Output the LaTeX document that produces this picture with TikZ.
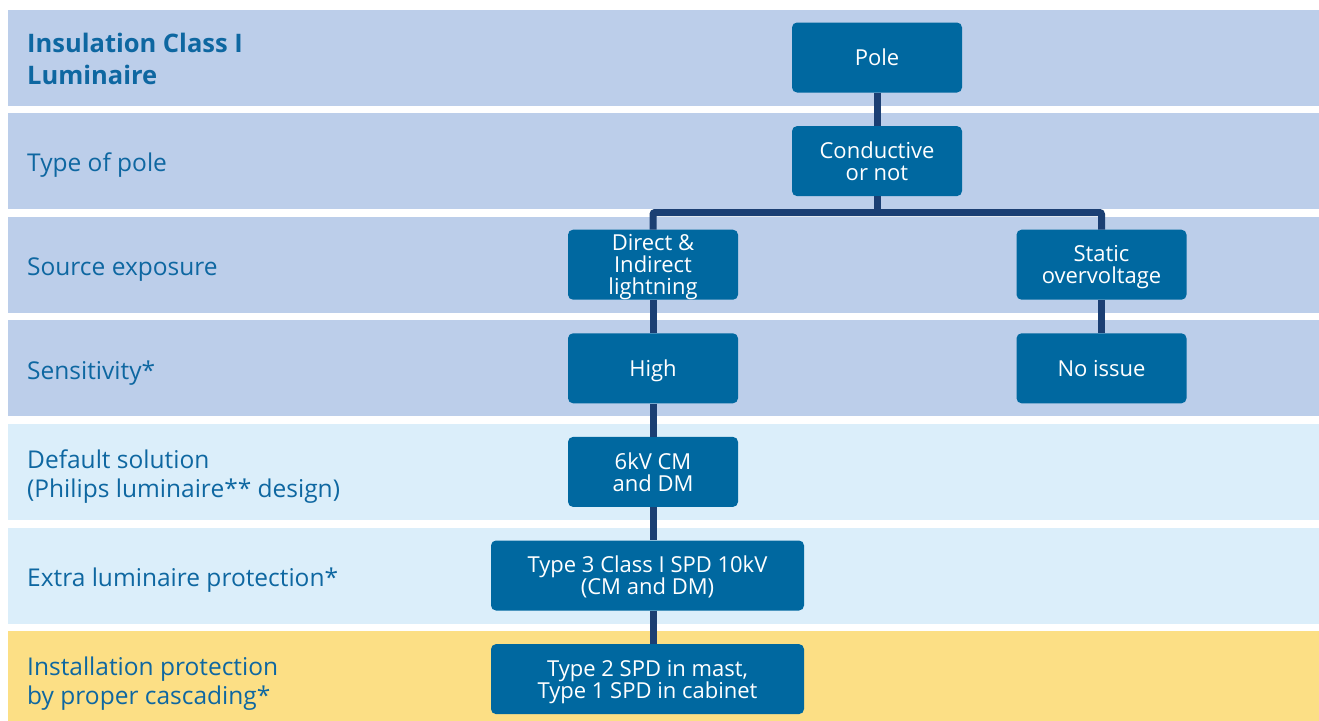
\documentclass[tikz,border=0pt]{standalone}
\usepackage{fontspec}
\setmainfont{Open Sans}
\usepackage{tikz}
\usetikzlibrary{positioning}
\definecolor{bandblue}{HTML}{BCCEEA}
\definecolor{bandcyan}{HTML}{DBEEFA}
\definecolor{bandyellow}{HTML}{FCDF85}
\definecolor{boxblue}{HTML}{0068A0}
\definecolor{linknavy}{HTML}{1B3F73}
\definecolor{labelblue}{HTML}{0E67A1}

\begin{document}
\begin{tikzpicture}[
     x=1pt, y=-1pt,
     band/.style={rectangle, inner sep=0pt, minimum width=1311pt, minimum height=96pt, anchor=west},
     rowlabel/.style={anchor=west, text=labelblue, inner sep=0pt, align=left, text depth=0pt, font=\fontsize{24.5}{29}\selectfont},  % depth 0 so the letters, not the descenders, sit on the band's middle
     stepbox/.style={rectangle, rounded corners=5pt, fill=boxblue, text=white, minimum width=170pt, minimum height=70pt, inner sep=2pt, align=center, text depth=0pt, font=\fontsize{22}{22}\selectfont},
     link/.style={draw=linknavy, line width=7pt, rounded corners=2pt}
 ]
 \useasboundingbox (0,0) rectangle (1319,720);

 % the seven bands, one per question
 \foreach \fillcol [count=\r] in {bandblue,bandblue,bandblue,bandblue,bandcyan,bandcyan,bandyellow} {
     \pgfmathsetmacro{\ymid}{57.5+(\r-1)*103.6}
     \node[band, fill=\fillcol] (row\r) at (8,\ymid) {};
 }

 \node[rowlabel, font=\bfseries\fontsize{25.5}{32}\selectfont] (lab1) at ([xshift=19pt,yshift=-1.5pt]row1.west) {Insulation Class I\\Luminaire};
 \foreach \txt [count=\r from 2] in {Type of pole, Source exposure, Sensitivity*, {Default solution\\(Philips luminaire** design)}, Extra luminaire protection*, {Installation protection\\by proper cascading*}} {
     \node[rowlabel] (lab\r) at ([xshift=19pt,yshift=-1.5pt]row\r.west) {\txt};
 }

 % decision boxes
 \node[stepbox] (pole) at (877,0 |- row1) {Pole};
 \node[stepbox] (cond) at (877,0 |- row2) {Conductive\\or not};
 \node[stepbox] (direct) at (653,0 |- row3) {Direct \&\\Indirect\\lightning};
 \node[stepbox] (static) at (1101.5,0 |- row3) {Static\\overvoltage};
 \node[stepbox] (high) at (653,0 |- row4) {High};
 \node[stepbox] (noissue) at (1101.5,0 |- row4) {No issue};
 \node[stepbox] (sixkv) at (653,0 |- row5) {6kV CM\\and DM};
 \node[stepbox, minimum width=313pt] (typethree) at (647.5,0 |- row6) {Type 3 Class I SPD 10kV\\(CM and DM)};
 \node[stepbox, minimum width=313pt] (typetwo) at (647.5,0 |- row7) {Type 2 SPD in mast,\\Type 1 SPD in cabinet};

 % connectors
 \coordinate (fork) at (877,212.5);
 \draw[link] (pole) -- (cond);
 \draw[link] (cond) -- (fork);
 \draw[link] (direct) |- (fork) -| (static);
 \draw[link] (direct) -- (high);
 \draw[link] (static) -- (noissue);
 \draw[link] (high) -- (sixkv);
 \draw[link] (sixkv.south) -- (sixkv.south |- typethree.north);
 \draw[link] (sixkv.south |- typethree.south) -- (sixkv.south |- typetwo.north);
\end{tikzpicture}
\end{document}
